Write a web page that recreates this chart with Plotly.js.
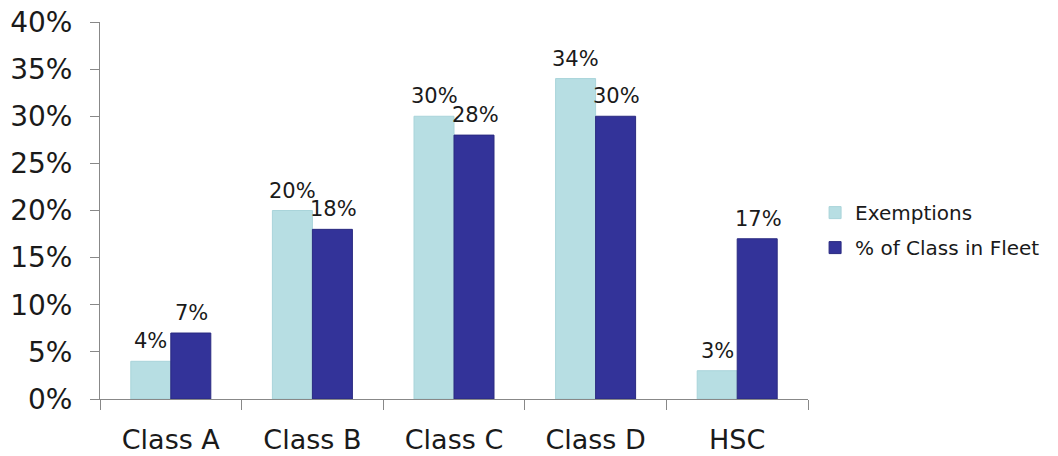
<!DOCTYPE html>
<html>
<head>
<meta charset="utf-8">
<script src="https://cdn.plot.ly/plotly-3.0.1.min.js"></script>
<style>html,body{margin:0;padding:0;background:#fff;}#chart{width:1058px;height:456px;}</style>
</head>
<body>
<div id="chart"></div>
<script>
const categories = ["Class A", "Class B", "Class C", "Class D", "HSC"];
const exemptions = [4, 20, 30, 34, 3];
const classInFleet = [7, 18, 28, 30, 17];
const yTickVals = [0, 5, 10, 15, 20, 25, 30, 35, 40];
const yTickText = ["0%", "5%", "10%", "15%", "20%", "25%", "30%", "35%", "40%"];

const fontFam = "DejaVu Sans, Verdana, sans-serif";
const txtColor = "#1a1a1a";

const traces = [
  {
    type: "bar", name: "Exemptions", x: categories, y: exemptions, legendgroup: "g1",
    marker: {color: "#B7DEE3", line: {color: "#A9D4DA", width: 1}}
  },
  {
    type: "bar", name: "% of Class in Fleet", x: categories, y: classInFleet, legendgroup: "g2",
    marker: {color: "#333399", line: {color: "#2A2A80", width: 1}}
  }
];

const annotations = [];
categories.forEach((c, i) => {
  annotations.push({x: c, y: exemptions[i], xref: "x", yref: "y", text: exemptions[i] + "%",
    showarrow: false, xshift: -20, yanchor: "bottom", yshift: 6,
    font: {family: fontFam, size: 21, color: txtColor}});
  annotations.push({x: c, y: classInFleet[i], xref: "x", yref: "y", text: classInFleet[i] + "%",
    showarrow: false, xshift: 21, yanchor: "bottom", yshift: 6,
    font: {family: fontFam, size: 21, color: txtColor}});
});

const layout = {
  width: 1058, height: 456,
  margin: {l: 100, r: 250, t: 22, b: 57},
  paper_bgcolor: "#fff", plot_bgcolor: "#fff",
  barmode: "group", bargap: 0.435, bargroupgap: 0,
  font: {family: fontFam, color: txtColor},
  showlegend: true,
  annotations: annotations,
  legend: {x: 1.01, y: 0.448, xanchor: "left", yanchor: "middle",
    font: {family: fontFam, size: 20, color: txtColor}, tracegroupgap: 6, itemwidth: 30},
  xaxis: {
    showline: true, linecolor: "#888", linewidth: 1,
    ticks: "outside", ticklen: 10, tickcolor: "#888", tickson: "boundaries",
    tickfont: {family: fontFam, size: 27, color: txtColor}, ticklabelstandoff: 17,
    showgrid: false, zeroline: false
  },
  yaxis: {
    range: [0, 40], tickvals: yTickVals, ticktext: yTickText,
    showline: true, linecolor: "#888", linewidth: 1,
    ticks: "outside", ticklen: 9, tickcolor: "#888",
    tickfont: {family: fontFam, size: 28, color: txtColor}, ticklabelstandoff: 12,
    showgrid: false, zeroline: false
  }
};

Plotly.newPlot("chart", traces, layout, {displayModeBar: false, staticPlot: true});
</script>
</body>
</html>
